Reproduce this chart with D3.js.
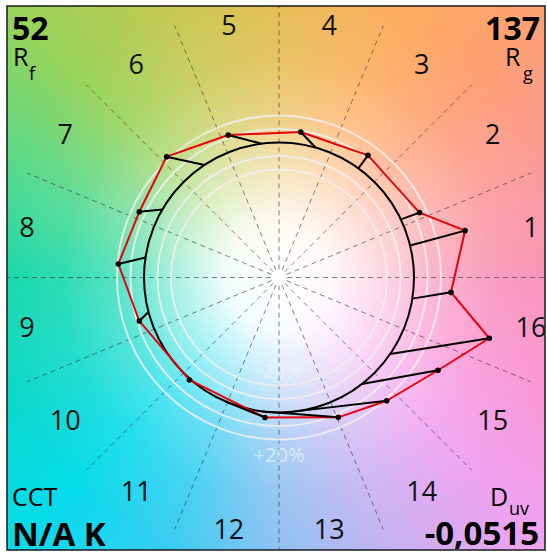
<!DOCTYPE html>
<html>
<head>
<meta charset="utf-8">
<script src="https://cdn.jsdelivr.net/npm/d3@7"></script>
<style>
  body { margin: 0; background: #fff; }
  text { font-family: "Open Sans", sans-serif; }
</style>
</head>
<body>
<div id="chart"></div>
<script>
// hue bins 1..16, test vector end points (normalised to the reference circle)
const bins = d3.range(1, 17);
const testX = [1.378, 1.041, 0.659, 0.161, -0.376, -0.832, -1.035, -1.190,
               -1.035, -0.664, -0.104, 0.439, 0.798, 1.178, 1.558, 1.274];
const testY = [0.347, 0.481, 0.905, 1.078, 1.056, 0.895, 0.487, 0.100,
               -0.322, -0.759, -1.037, -1.036, -0.913, -0.687, -0.450, -0.110];
// reference hue angle of each bin (degrees), on the unit circle
const refAngle = [13.7, 25.5, 54.0, 74.3, 97.4, 123.5, 149.8, 171.5,
                  194.8, 228.0, 246.0, 263.0, 278.9, 307.9, 325.5, 351.0];

const ringLevels = [0.8, 0.9, 1.1, 1.2];
const ringLabels = [{ level: 0.8, text: "-20%" }, { level: 1.2, text: "+20%" }];

const hueStops = [0, 22.5, 45, 67.5, 90, 112.5, 135, 157.5, 180, 202.5, 225, 247.5, 270, 292.5, 315, 337.5, 360];
const hueColors = ["#f992b8", "#fc9a9a", "#ff9f74", "#fdae5e", "#e6bd52", "#c6c952", "#98d35a", "#55d98c",
                   "#14d8aa", "#0cd9c8", "#06dbea", "#38cdf2", "#8ec0f2", "#c6b2f2", "#f0a2f0", "#fb96d6", "#f992b8"];

const Rf = "52", Rg = "137", CCT = "N/A K", Duv = "-0,0515";

const width = 547, height = 553;
const cx = 279, cy = 277.5, R = 135;
const frame = { x: 7, y: 6, w: 538, h: 544 };

const svg = d3.select("#chart").append("svg")
    .attr("width", width)
    .attr("height", height);

const defs = svg.append("defs");
defs.append("clipPath").attr("id", "frameClip")
    .append("rect")
    .attr("x", frame.x).attr("y", frame.y)
    .attr("width", frame.w).attr("height", frame.h);

const glow = defs.append("radialGradient")
    .attr("id", "whiteCenter")
    .attr("gradientUnits", "userSpaceOnUse")
    .attr("cx", cx).attr("cy", cy).attr("r", 290);
[[0, 1], [0.18, 0.93], [0.37, 0.6], [0.55, 0.3], [0.75, 0.1], [1, 0]].forEach(s => {
    glow.append("stop").attr("offset", s[0]).attr("stop-color", "#fff").attr("stop-opacity", s[1]);
});

const xScale = d3.scaleLinear().domain([-1, 1]).range([cx - R, cx + R]);
const yScale = d3.scaleLinear().domain([-1, 1]).range([cy + R, cy - R]);
const rScale = d3.scaleLinear().domain([0, 1]).range([0, R]);
const rad = a => a * Math.PI / 180;
const px = (a, r) => xScale(r * Math.cos(rad(a)));
const py = (a, r) => yScale(r * Math.sin(rad(a)));

const hueColor = d3.scaleLinear().domain(hueStops).range(hueColors).interpolate(d3.interpolateRgb);

const plot = svg.append("g").attr("clip-path", "url(#frameClip)");

// hue background, 1 degree wedges
const wedge = d3.arc().innerRadius(0).outerRadius(420);
plot.append("g")
    .attr("transform", `translate(${cx},${cy})`)
    .selectAll("path")
    .data(d3.range(0, 360, 1))
    .join("path")
    .attr("d", a => wedge({ startAngle: rad(90 - a - 0.6), endAngle: rad(90 - a + 0.6) }))
    .attr("fill", a => hueColor(a));

plot.append("rect")
    .attr("x", frame.x).attr("y", frame.y)
    .attr("width", frame.w).attr("height", frame.h)
    .attr("fill", "url(#whiteCenter)");

// bin boundaries
plot.append("g").selectAll("line")
    .data(d3.range(0, 360, 22.5))
    .join("line")
    .attr("x1", a => px(a, 0.06))
    .attr("y1", a => py(a, 0.06))
    .attr("x2", a => px(a, 2.02))
    .attr("y2", a => py(a, 2.02))
    .attr("stroke", "#333")
    .attr("stroke-opacity", 0.6)
    .attr("stroke-width", 1)
    .attr("stroke-dasharray", "5,4");

// grey rings
plot.append("g").selectAll("circle")
    .data(ringLevels)
    .join("circle")
    .attr("cx", cx).attr("cy", cy)
    .attr("r", d => rScale(d))
    .attr("fill", "none")
    .attr("stroke", "#eeeeee")
    .attr("stroke-opacity", 0.85)
    .attr("stroke-width", 2);

plot.append("g").selectAll("text")
    .data(ringLabels)
    .join("text")
    .attr("x", cx)
    .attr("y", d => d.level < 1 ? cy + rScale(d.level) - 8 : cy + rScale(d.level) + 22)
    .attr("text-anchor", "middle")
    .attr("font-size", 20)
    .attr("fill", "#fff")
    .attr("fill-opacity", d => d.level < 1 ? 0.35 : 0.55)
    .text(d => d.text);

// reference circle
plot.append("circle")
    .attr("cx", cx).attr("cy", cy)
    .attr("r", rScale(1))
    .attr("fill", "none")
    .attr("stroke", "#000")
    .attr("stroke-width", 2);

const pts = bins.map((b, i) => ({ bin: b, x: testX[i], y: testY[i], ref: refAngle[i] }));

// test polygon
plot.append("path")
    .datum(pts)
    .attr("d", d3.line().x(d => xScale(d.x)).y(d => yScale(d.y)).curve(d3.curveLinearClosed))
    .attr("fill", "none")
    .attr("stroke", "#e8000b")
    .attr("stroke-width", 2)
    .attr("stroke-linejoin", "round");

// vectors
plot.append("g").selectAll("line")
    .data(pts)
    .join("line")
    .attr("x1", d => px(d.ref, 1))
    .attr("y1", d => py(d.ref, 1))
    .attr("x2", d => xScale(d.x))
    .attr("y2", d => yScale(d.y))
    .attr("stroke", "#000")
    .attr("stroke-width", 2);

plot.append("g").selectAll("circle")
    .data(pts)
    .join("circle")
    .attr("cx", d => xScale(d.x))
    .attr("cy", d => yScale(d.y))
    .attr("r", 2.8)
    .attr("fill", "#000");

// hue bin numbers
plot.append("g").selectAll("text")
    .data(bins)
    .join("text")
    .attr("x", b => px((b - 0.5) * 22.5, 257 / R))
    .attr("y", b => py((b - 0.5) * 22.5, 257 / R))
    .attr("dy", "0.36em")
    .attr("text-anchor", "middle")
    .attr("font-size", 27)
    .attr("fill", "#111")
    .text(b => b);

// corner metrics
const corner = svg.append("g").attr("fill", "#000");
corner.append("text").attr("x", 12).attr("y", 40)
    .attr("font-size", 32).attr("font-weight", "bold").text(Rf);
corner.append("text").attr("x", 13).attr("y", 66).attr("font-size", 25).text("R");
corner.append("text").attr("x", 29).attr("y", 80).attr("font-size", 18).text("f");

corner.append("text").attr("x", 540).attr("y", 40).attr("text-anchor", "end")
    .attr("font-size", 32).attr("font-weight", "bold").text(Rg);
corner.append("text").attr("x", 505).attr("y", 66).attr("font-size", 25).text("R");
corner.append("text").attr("x", 523).attr("y", 80).attr("font-size", 18).text("g");

corner.append("text").attr("x", 12).attr("y", 506).attr("font-size", 25).text("CCT");
corner.append("text").attr("x", 12).attr("y", 546)
    .attr("font-size", 33).attr("font-weight", "bold").text(CCT);

corner.append("text").attr("x", 490).attr("y", 506).attr("font-size", 25).text("D");
corner.append("text").attr("x", 509).attr("y", 515).attr("font-size", 18).text("uv");
corner.append("text").attr("x", 539).attr("y", 545).attr("text-anchor", "end")
    .attr("font-size", 33).attr("font-weight", "bold").text(Duv);

// frame
svg.append("rect")
    .attr("x", frame.x).attr("y", frame.y)
    .attr("width", frame.w).attr("height", frame.h)
    .attr("fill", "none")
    .attr("stroke", "#1a1a1a")
    .attr("stroke-width", 1.5);
</script>
</body>
</html>
